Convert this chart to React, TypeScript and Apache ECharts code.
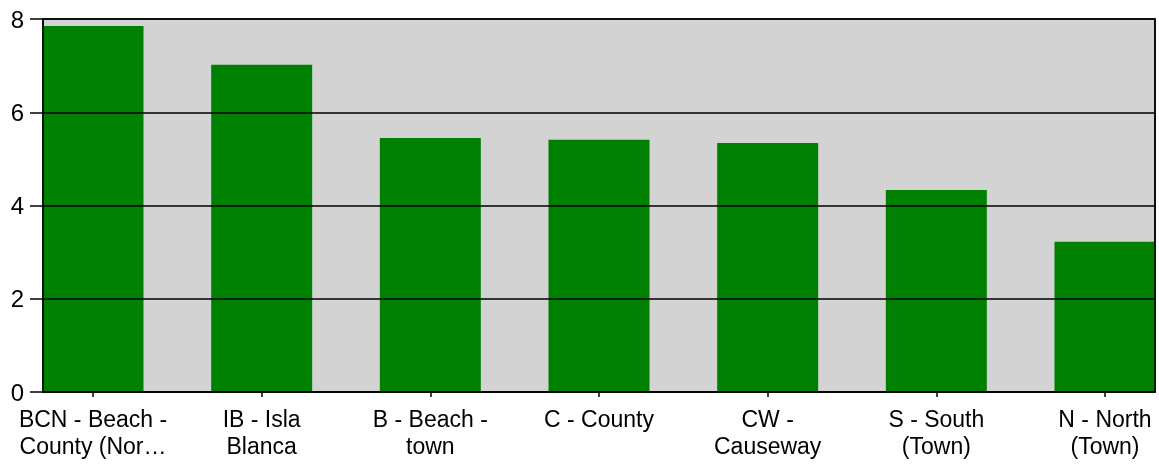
import React, { useEffect, useRef } from "react";
import * as echarts from "echarts";

const categories = [
  "BCN - Beach -\nCounty (Nor…",
  "IB - Isla\nBlanca",
  "B - Beach -\ntown",
  "C - County",
  "CW -\nCauseway",
  "S - South\n(Town)",
  "N - North\n(Town)",
];
const values = [7.85, 7.02, 5.45, 5.41, 5.34, 4.33, 3.22];
const yTicks = { min: 0, max: 8, interval: 2 };

const FONT = "'Liberation Sans', Arial, sans-serif";
const AXIS_LINE = { show: true, lineStyle: { color: "#000", width: 1.5 } };

export default function App() {
  const ref = useRef<HTMLDivElement>(null);
  useEffect(() => {
    if (!ref.current) return;
    const chart = echarts.init(ref.current, null, { renderer: "svg" });
    chart.setOption({
      animation: false,
      grid: [
        {
          left: 43,
          right: 4,
          top: 19,
          bottom: 72,
          show: true,
          backgroundColor: "#d3d3d3",
          borderColor: "#000",
          borderWidth: 1.5,
          containLabel: false,
          outerBoundsMode: "none",
        },
        {
          left: 8.667,
          width: 1180.667,
          top: 19,
          bottom: 72,
          containLabel: false,
          outerBoundsMode: "none",
        },
      ],
      xAxis: [
        {
          type: "category",
          gridIndex: 0,
          data: categories,
          position: "bottom",
          z: 10,
          axisLine: AXIS_LINE,
          axisTick: { show: false },
          axisLabel: { show: false },
          splitLine: { show: false },
        },
        {
          type: "category",
          gridIndex: 1,
          data: categories,
          axisLine: { show: false },
          axisTick: {
            show: true,
            alignWithLabel: true,
            length: 5,
            lineStyle: { color: "#000", width: 1.5 },
          },
          axisLabel: {
            interval: 0,
            color: "#000",
            fontFamily: FONT,
            fontSize: 23,
            lineHeight: 27,
            margin: 13,
            hideOverlap: false,
          },
        },
      ],
      yAxis: [
        {
          type: "value",
          gridIndex: 0,
          min: yTicks.min,
          max: yTicks.max,
          interval: yTicks.interval,
          z: 10,
          axisLine: AXIS_LINE,
          axisTick: { show: true, length: 13, lineStyle: { color: "#000", width: 1.5 } },
          axisLabel: { color: "#000", fontFamily: FONT, fontSize: 24, margin: 19 },
          splitLine: { show: true, lineStyle: { color: "#000", width: 1.5 } },
        },
        {
          type: "value",
          gridIndex: 1,
          min: yTicks.min,
          max: yTicks.max,
          interval: yTicks.interval,
          show: false,
          splitLine: { show: false },
        },
        {
          type: "value",
          gridIndex: 0,
          position: "right",
          min: yTicks.min,
          max: yTicks.max,
          interval: yTicks.interval,
          z: 10,
          axisLine: AXIS_LINE,
          axisTick: { show: false },
          axisLabel: { show: false },
          splitLine: { show: false },
        },
      ],
      series: [
        {
          type: "bar",
          xAxisIndex: 1,
          yAxisIndex: 1,
          data: values,
          barWidth: 101,
          itemStyle: { color: "#008000" },
          z: 3,
        },
      ],
    });
    return () => chart.dispose();
  }, []);
  return (
    <div
      ref={ref}
      style={{ position: "fixed", left: 0, top: 0, width: 1159, height: 464, overflow: "hidden" }}
    />
  );
}
